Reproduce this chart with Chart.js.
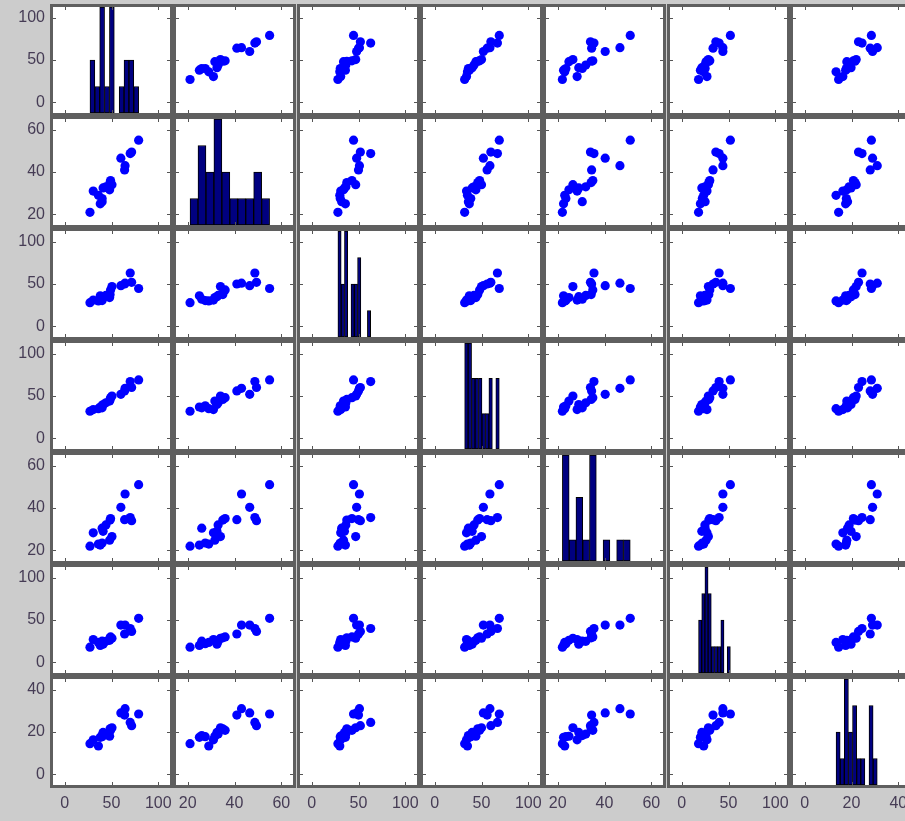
<!DOCTYPE html>
<html lang="en">
<head>
  <meta charset="UTF-8" />
  <title>Scatter plot matrix</title>
  <script src="https://cdn.jsdelivr.net/npm/chart.js"></script>
  <style>
    html, body {
      margin: 0;
      padding: 0;
      background: #cccccc;
      width: 905px;
      height: 821px;
      overflow: hidden;
    }
    #grid {
      position: relative;
      width: 905px;
      height: 821px;
    }
    #grid canvas {
      position: absolute;
    }
  </style>
</head>
<body>
  <div id="grid"></div>

  <script>
    // 18 Beobachtungen, 7 Variablen
    const v1 = [27, 30.5, 38, 40, 40, 36, 48, 44, 48.5, 49, 64, 64.5, 60, 70, 71.5, 79, 41, 50.5];
    const v2 = [21, 31, 25, 26, 27.5, 29, 31.6, 33, 35, 36, 41, 43, 46.5, 48.7, 49.4, 55, 32.5, 34];
    const v3 = [28, 31, 36, 32, 30.5, 30, 34, 36.5, 37.5, 43, 50, 51, 48, 63, 52, 44.7, 35, 47];
    const v4 = [32, 34, 37, 36, 38.5, 35, 44, 42, 46, 48, 56, 59, 52, 67, 60, 69, 40, 50];
    const v5 = [22, 28.3, 22.5, 30.5, 23.5, 23, 24.8, 32, 34.3, 35, 34.5, 46.6, 40.3, 35.5, 34, 51, 29, 26.5];
    const v6 = [18, 27, 20, 25, 22, 23.5, 26, 24.8, 29, 30, 33.5, 44, 44, 40, 36.5, 52, 21.5, 28.5];
    const v7 = [14.5, 16.3, 17.5, 18.3, 17.8, 13.4, 18, 19, 21.5, 20.8, 28, 31, 29, 24.5, 23, 28.5, 19.8, 22];
    const vars = [v1, v2, v3, v4, v5, v6, v7];

    // Histogramm-Höhen (10 Klassen je Variable)
    const h1 = [2, 1, 4, 1, 4, 0, 1, 2, 2, 1];
    const h2 = [1, 3, 2, 4, 2, 1, 1, 1, 2, 1];
    const h3 = [4, 2, 4, 0, 2, 2, 3, 0, 0, 1];
    const h4 = [3, 3, 2, 2, 2, 1, 1, 2, 0, 2];
    const h5 = [5, 1, 3, 1, 5, 0, 1, 0, 1, 1];
    const h6 = [2, 3, 4, 3, 1, 1, 1, 2, 0, 1];
    const h7 = [2, 1, 4, 2, 3, 1, 1, 0, 3, 1];
    const hists = [h1, h2, h3, h4, h5, h6, h7];

    // Achsenbereiche und Tick-Beschriftungen
    const axisMin = [-12.5, 15, -12.5, -12.5, 15, -12.5, -5];
    const axisMax = [112.5, 65, 112.5, 112.5, 65, 112.5, 45];
    const ticks100 = [0, 50, 100];
    const ticks60 = [20, 40, 60];
    const ticks40 = [0, 20, 40];
    const tickVals = [ticks100, ticks60, ticks100, ticks100, ticks60, ticks100, ticks40];

    const n = vars.length;
    const cellLeft = [53, 176, 300, 423, 546, 670, 793];
    const cellTop = [7, 119, 231, 343, 455, 567, 679];
    const cellW = 117, cellH = 106;
    const pageW = 905, pageH = 821;

    Chart.defaults.font.family = "'Liberation Sans', Arial, sans-serif";
    Chart.defaults.font.size = 16;
    Chart.defaults.color = '#463c55';

    // weißer Hintergrund, Rahmen und kleine Ticks nach innen (wie in MATLAB)
    const boxPlugin = {
      id: 'box',
      beforeDatasetsDraw(chart) {
        const a = chart.chartArea, ctx = chart.ctx;
        ctx.save();
        ctx.fillStyle = '#ffffff';
        ctx.fillRect(a.left, a.top, a.right - a.left, a.bottom - a.top);
        ctx.restore();
      },
      afterDraw(chart) {
        const a = chart.chartArea, ctx = chart.ctx;
        ctx.save();
        ctx.strokeStyle = '#555555';
        ctx.lineWidth = 1;
        const len = 3;
        chart.scales.x.ticks.forEach(t => {
          const px = Math.round(chart.scales.x.getPixelForValue(t.value)) + 0.5;
          ctx.beginPath();
          ctx.moveTo(px, a.bottom); ctx.lineTo(px, a.bottom - len);
          ctx.moveTo(px, a.top); ctx.lineTo(px, a.top + len);
          ctx.stroke();
        });
        chart.scales.y.ticks.forEach(t => {
          const py = Math.round(chart.scales.y.getPixelForValue(t.value)) + 0.5;
          ctx.beginPath();
          ctx.moveTo(a.left, py); ctx.lineTo(a.left + len, py);
          ctx.moveTo(a.right, py); ctx.lineTo(a.right - len, py);
          ctx.stroke();
        });
        ctx.strokeStyle = '#5f5f5f';
        ctx.lineWidth = 3;
        ctx.strokeRect(a.left - 1.5, a.top - 1.5, a.right - a.left + 3, a.bottom - a.top + 3);
        ctx.restore();
      }
    };

    function histData(k) {
      const lo = Math.min(...vars[k]);
      const hi = Math.max(...vars[k]);
      const w = (hi - lo) / hists[k].length;
      return hists[k].map((c, i) => ({ x: lo + (i + 0.5) * w, y: c }));
    }

    function noPad(s) {
      s.paddingLeft = 0;
      s.paddingRight = 0;
      s.paddingTop = 0;
      s.paddingBottom = 0;
    }

    const grid = document.getElementById('grid');

    for (let r = 0; r < n; r++) {
      for (let c = 0; c < n; c++) {
        const left = c === 0 ? 0 : cellLeft[c] - 3;
        const top = cellTop[r] - 3;
        const right = cellLeft[c] + cellW + 3;
        const bottom = r === n - 1 ? pageH : cellTop[r] + cellH + 3;

        const canvas = document.createElement('canvas');
        canvas.width = right - left;
        canvas.height = bottom - top;
        canvas.style.left = left + 'px';
        canvas.style.top = top + 'px';
        canvas.style.width = (right - left) + 'px';
        canvas.style.height = (bottom - top) + 'px';
        grid.appendChild(canvas);

        const yLabelW = c === 0 ? cellLeft[0] : 0;
        const xLabelH = r === n - 1 ? pageH - (cellTop[r] + cellH) : 0;

        let datasets;
        if (r === c) {
          datasets = [{
            type: 'bar',
            data: histData(c),
            yAxisID: 'yh',
            backgroundColor: '#000080',
            borderColor: '#000000',
            borderWidth: 1,
            borderSkipped: false,
            categoryPercentage: 1,
            barPercentage: 1
          }];
        } else {
          datasets = [{
            type: 'scatter',
            data: vars[c].map((x, i) => ({ x: x, y: vars[r][i] })),
            pointRadius: 4.6,
            pointBorderWidth: 0,
            backgroundColor: '#0000ff',
            borderColor: '#0000ff'
          }];
        }

        new Chart(canvas.getContext('2d'), {
          type: 'scatter',
          data: { datasets: datasets },
          options: {
            responsive: false,
            animation: false,
            events: [],
            devicePixelRatio: 1,
            layout: {
              autoPadding: false,
              padding: { left: c === 0 ? 0 : 3, top: 3, right: 3, bottom: r === n - 1 ? 0 : 3 }
            },
            plugins: { legend: { display: false }, tooltip: { enabled: false } },
            scales: {
              x: {
                type: 'linear',
                offset: false,
                min: axisMin[c],
                max: axisMax[c],
                grid: { display: false, drawTicks: false, offset: false },
                border: { display: false },
                ticks: { display: r === n - 1, padding: 9, maxRotation: 0, autoSkip: false },
                afterBuildTicks: s => { s.ticks = tickVals[c].map(v => ({ value: v })); },
                afterFit: s => { s.height = xLabelH; noPad(s); }
              },
              y: {
                type: 'linear',
                offset: false,
                min: axisMin[r],
                max: axisMax[r],
                grid: { display: false, drawTicks: false },
                border: { display: false },
                ticks: { display: c === 0, padding: 8, autoSkip: false },
                afterBuildTicks: s => { s.ticks = tickVals[r].map(v => ({ value: v })); },
                afterFit: s => { s.width = yLabelW; noPad(s); }
              },
              yh: {
                type: 'linear',
                display: false,
                position: 'right',
                min: 0,
                max: Math.max(...hists[c]),
                afterFit: s => { noPad(s); }
              }
            }
          },
          plugins: [boxPlugin]
        });
      }
    }
  </script>
</body>
</html>
